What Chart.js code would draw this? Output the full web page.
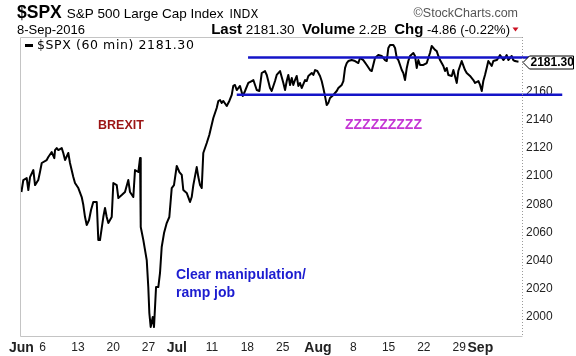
<!DOCTYPE html>
<html>
<head>
<meta charset="utf-8">
<script src="https://cdn.jsdelivr.net/npm/chart.js@4/dist/chart.umd.min.js"></script>
<style>
  html, body { margin:0; padding:0; background:#fff; }
  #wrap { width:576px; height:356px; position:relative; }
</style>
</head>
<body>
<div id="wrap"><canvas id="c" width="576" height="356"></canvas></div>
<script>
// ---- data (x = trading-day position from 1-Jun-2016, y = $SPX 60-min close) ----
const dayPos = [
  0.00,0.27,0.75,0.98,1.22,1.69,1.93,2.39,2.63,2.88,3.58,3.81,4.29,4.66,4.76,5.00,5.23,5.71,5.93,6.18,
  6.64,6.88,7.35,7.59,8.06,8.54,8.77,9.01,9.25,9.58,9.86,10.18,10.67,10.89,11.13,11.60,11.84,12.08,12.31,12.79,
  13.02,13.50,13.73,14.21,14.67,15.14,15.38,15.85,16.09,16.56,16.80,16.90,17.27,17.75,17.97,18.12,18.31,18.60,18.78,19.07,
  19.39,19.63,19.87,20.20,20.58,20.95,21.29,21.61,22.00,22.37,22.71,22.93,23.41,23.88,24.12,24.35,24.83,25.06,25.30,25.54,
  25.76,26.25,26.61,27.18,27.66,27.89,28.13,28.37,28.60,29.08,29.45,29.79,30.01,30.25,30.50,30.72,30.96,31.35,31.67,32.14,
  32.62,32.85,33.09,33.33,33.70,34.04,34.50,34.75,35.21,35.45,35.92,36.16,36.63,37.10,37.34,37.58,37.80,38.05,38.29,38.51,
  38.75,38.99,39.22,39.46,39.70,40.17,40.41,40.64,41.12,41.35,41.59,41.91,42.29,42.53,42.76,43.00,43.24,43.47,43.71,44.18,
  44.66,44.89,45.37,45.60,45.84,46.08,46.30,46.78,47.25,47.72,47.96,48.42,48.91,49.38,49.62,50.08,50.55,51.03,51.50,51.74,
  51.97,52.21,52.68,52.92,53.16,53.39,53.63,53.87,54.09,54.33,54.58,54.80,55.04,55.51,55.75,55.99,56.22,56.46,56.93,57.41,
  57.63,57.87,58.11,58.58,58.82,59.05,59.29,59.76,60.00,60.24,60.47,60.95,61.18,61.66,61.88,62.12,62.36,62.83,63.07,63.54,
  64.01,64.25,64.72,64.96,65.20,65.42,65.66,65.90,66.13,66.61,66.84,67.32,67.55,67.79,68.26,68.50,68.73,68.96,69.44,69.67,
  69.90,70.40
];
const spx = [
  2088.7,2097.2,2098.6,2090.1,2099.3,2104.3,2093.6,2097.2,2102.9,2109.3,2111.4,2113.6,2117.1,2112.8,2118.5,2119.9,2118.5,2119.9,2116.4,2111.4,
  2116.4,2109.3,2099.3,2095.1,2091.5,2085.1,2079.4,2070.9,2065.2,2068.8,2075.9,2081.6,2081.6,2054.5,2054.5,2070.9,2077.3,2070.9,2066.6,2070.9,
  2095.1,2093.6,2084.4,2086.5,2088.7,2097.2,2088.7,2085.1,2104.3,2102.9,2112.8,2063.8,2054.5,2040.3,2021.1,2002.6,1992.7,1999.8,1992.7,2021.1,
  2021.1,2031.1,2049.6,2059.5,2066.6,2070.9,2091.5,2093.6,2107.2,2102.9,2100.8,2090.1,2088.0,2081.6,2085.1,2093.6,2106.4,2099.3,2093.6,2091.5,
  2116.4,2123.5,2129.2,2141.3,2148.4,2153.4,2154.1,2152.0,2153.4,2149.8,2153.4,2157.7,2164.1,2164.8,2161.2,2162.6,2164.1,2156.9,2160.5,2166.2,
  2167.6,2168.3,2164.8,2161.2,2160.5,2173.3,2174.7,2171.9,2162.6,2160.5,2167.6,2171.9,2174.7,2166.2,2161.2,2167.6,2171.9,2164.8,2169.7,2164.8,
  2168.3,2171.2,2164.1,2166.2,2162.6,2168.3,2167.6,2171.2,2173.3,2171.9,2175.4,2174.7,2171.2,2167.6,2162.6,2156.9,2150.5,2152.0,2155.5,2157.7,
  2160.5,2162.6,2164.8,2167.6,2176.9,2180.4,2181.8,2182.5,2181.8,2180.4,2184.0,2182.5,2179.0,2175.4,2174.7,2184.0,2186.1,2185.4,2182.5,2181.8,
  2191.1,2193.2,2193.2,2191.1,2184.0,2182.5,2179.0,2175.4,2173.3,2168.3,2176.9,2181.8,2185.4,2187.5,2185.4,2176.9,2182.5,2179.0,2179.0,2180.4,
  2184.0,2187.5,2192.5,2189.7,2188.9,2185.4,2182.5,2178.3,2174.7,2176.9,2171.9,2171.2,2175.4,2166.2,2174.7,2178.3,2181.8,2175.4,2173.3,2171.2,
  2168.3,2166.2,2167.6,2164.8,2160.5,2167.6,2171.9,2176.9,2181.8,2178.3,2181.8,2182.5,2184.0,2186.1,2182.5,2184.0,2186.1,2182.5,2185.4,2182.5,
  2181.8,2181.3
];
const tickDays   = [0, 3, 8, 13, 18, 22, 27, 32, 37, 42, 47, 52, 57, 62, 65];
const tickLabels = ['Jun','6','13','20','27','Jul','11','18','25','Aug','8','15','22','29','Sep'];
const monthLabels = ['Jun','Jul','Aug','Sep'];
const yTicks = [2000, 2020, 2040, 2060, 2080, 2100, 2120, 2140, 2160];
// drawn channel lines: [startDay, endDay], level
const resistanceDays = [32.1, 73.5];
const resistanceLevel = 2184.3;
const supportDays = [30.5, 76.6];
const supportLevel = 2157.9;
const lastValue = 2181.30;

const AR = 'Liberation Sans, Arial, sans-serif';
const VD = 'DejaVu Sans, Verdana, sans-serif';

const series = dayPos.map((d, i) => ({ x: d, y: spx[i] }));

const deco = {
  id: 'deco',
  beforeDraw(chart) {
    const ctx = chart.ctx;
    ctx.save();
    ctx.fillStyle = '#fff';
    ctx.fillRect(0, 0, chart.width, chart.height);
    ctx.restore();
  },
  afterDraw(chart) {
    const ctx = chart.ctx;
    const a = chart.chartArea;
    const ys = chart.scales.y;
    ctx.save();
    // frame
    ctx.strokeStyle = '#c4c4c4';
    ctx.lineWidth = 1;
    ctx.beginPath();
    ctx.moveTo(a.right + 0.5, a.top + 0.5);
    ctx.lineTo(a.left + 0.5, a.top + 0.5);
    ctx.lineTo(a.left + 0.5, a.bottom + 0.5);
    ctx.lineTo(a.right + 0.5, a.bottom + 0.5);
    ctx.stroke();
    ctx.setLineDash([1, 2]);
    ctx.strokeStyle = '#9a9a9a';
    ctx.beginPath();
    ctx.moveTo(a.right + 0.5, a.top);
    ctx.lineTo(a.right + 0.5, a.bottom);
    ctx.stroke();
    ctx.setLineDash([]);

    // header line 1
    ctx.textBaseline = 'alphabetic';
    ctx.fillStyle = '#000';
    ctx.font = 'bold 17.5px ' + AR;
    ctx.fillText('$SPX', 17, 18);
    let w = ctx.measureText('$SPX').width;
    ctx.font = '13.5px ' + AR;
    ctx.fillText('S&P 500 Large Cap Index', 17 + w + 5, 18);
    let w2 = ctx.measureText('S&P 500 Large Cap Index').width;
    ctx.font = '11.5px ' + VD;
    ctx.fillText('INDX', 17 + w + 5 + w2 + 6, 18);
    ctx.fillStyle = '#555';
    ctx.font = '12.5px ' + AR;
    ctx.textAlign = 'right';
    ctx.fillText('\u00A9StockCharts.com', 518, 17);

    // header line 2
    ctx.textAlign = 'left';
    ctx.fillStyle = '#000';
    ctx.font = '13px ' + AR;
    ctx.fillText('8-Sep-2016', 17, 34);
    const parts = [
      ['Last', 'bold 15px ' + AR], [' 2181.30  ', '13.5px ' + AR],
      ['Volume', 'bold 15px ' + AR], [' 2.2B  ', '13.5px ' + AR],
      ['Chg', 'bold 15px ' + AR], [' -4.86 (-0.22%)', '13px ' + AR]
    ];
    let total = 0;
    parts.forEach(p => { ctx.font = p[1]; total += ctx.measureText(p[0]).width; });
    let x = 510 - total;
    parts.forEach(p => { ctx.font = p[1]; ctx.fillText(p[0], x, 34); x += ctx.measureText(p[0]).width; });
    ctx.fillStyle = '#cc1122';
    ctx.beginPath();
    ctx.moveTo(512.5, 27.5); ctx.lineTo(518.5, 27.5); ctx.lineTo(515.5, 31.5); ctx.closePath();
    ctx.fill();

    // legend
    ctx.fillStyle = '#000';
    ctx.fillRect(25, 44, 8, 3);
    ctx.font = '12.5px ' + VD;
    ctx.letterSpacing = '0.6px';
    ctx.textBaseline = 'middle';
    ctx.fillText('$SPX (60 min) 2181.30', 37, 45.5);
    ctx.letterSpacing = '0px';

    // annotations
    ctx.font = 'bold 12.5px ' + AR;
    ctx.fillStyle = '#9c1515';
    ctx.fillText('BREXIT', 98, 125.5);
    ctx.font = 'bold 14px ' + AR;
    ctx.fillStyle = '#c435d4';
    ctx.fillText('ZZZZZZZZZ', 345, 125.5);
    ctx.fillStyle = '#1c1cd0';
    ctx.fillText('Clear manipulation/', 176, 275);
    ctx.fillText('ramp job', 176, 293);

    // last value tag
    const ly = Math.round(ys.getPixelForValue(lastValue)) + 0.5;
    ctx.fillStyle = '#fff';
    ctx.strokeStyle = '#000';
    ctx.lineWidth = 1;
    ctx.beginPath();
    ctx.moveTo(523, ly);
    ctx.lineTo(529.5, ly - 6.5);
    ctx.lineTo(573.5, ly - 6.5);
    ctx.lineTo(573.5, ly + 6.5);
    ctx.lineTo(529.5, ly + 6.5);
    ctx.closePath();
    ctx.fill();
    ctx.stroke();
    ctx.fillStyle = '#000';
    ctx.font = 'bold 12px ' + AR;
    ctx.textAlign = 'left';
    ctx.fillText('2181.30', 530.5, ly + 0.5);
    ctx.restore();
  }
};

new Chart(document.getElementById('c'), {
  type: 'line',
  data: {
    datasets: [
      {
        data: resistanceDays.map(d => ({ x: d, y: resistanceLevel })),
        borderColor: '#1414c8', borderWidth: 2.5, pointRadius: 0, clip: false, order: 0
      },
      {
        data: supportDays.map(d => ({ x: d, y: supportLevel })),
        borderColor: '#1414c8', borderWidth: 2.5, pointRadius: 0, clip: false, order: 0
      },
      {
        data: series,
        borderColor: '#000', borderWidth: 2, pointRadius: 0, tension: 0, order: 1,
        borderJoinStyle: 'round'
      }
    ]
  },
  options: {
    responsive: false,
    devicePixelRatio: 1,
    animation: false,
    events: [],
    layout: { padding: { left: 20, top: 37, right: 0, bottom: 0 } },
    plugins: { legend: { display: false }, tooltip: { enabled: false } },
    scales: {
      x: {
        type: 'linear',
        min: -0.2, max: 70.9,
        grid: { display: false, drawTicks: false },
        border: { display: false },
        afterBuildTicks: s => { s.ticks = tickDays.map(v => ({ value: v })); },
        afterFit: s => { s.height = 20; },
        ticks: {
          autoSkip: false, maxRotation: 0, padding: 4,
          color: '#222',
          callback: (v, i) => tickLabels[i],
          font: c => {
            const lbl = tickLabels[c.index];
            const m = monthLabels.includes(lbl);
            return { family: AR, size: m ? 14 : 12, weight: m ? 'bold' : 'normal' };
          }
        }
      },
      y: {
        position: 'right',
        min: 1986.3, max: 2198.9,
        grid: { display: false, drawTicks: false },
        border: { display: false },
        afterBuildTicks: s => { s.ticks = yTicks.map(v => ({ value: v })); },
        afterFit: s => { s.width = 54; },
        ticks: {
          padding: 4,
          color: '#222',
          font: { family: AR, size: 12 },
          callback: v => String(v)
        }
      }
    }
  },
  plugins: [deco]
});
</script>
</body>
</html>
